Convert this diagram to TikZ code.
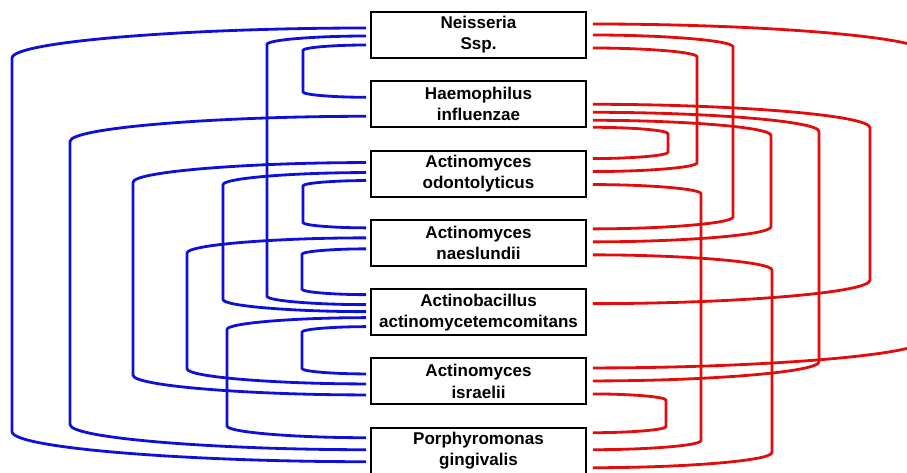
\documentclass[tikz,border=0pt]{standalone}
\usepackage{fontspec}
\setmainfont{Liberation Sans}
\usetikzlibrary{positioning, calc}
\definecolor{wireblue}{RGB}{15,15,215}
\definecolor{wirered}{RGB}{225,12,12}
\tikzset{
x=0.02cm, y=-0.02cm, % one unit is one pixel of the picture, y grows downward
node distance=1.386cm, % distance between the centres of two boxes
species/.style={draw, line width=1.1pt, fill=white, minimum width=4.3cm, minimum height=0.92cm, inner sep=0pt, align=center, font=\fontsize{9.7}{12}\selectfont\bfseries}, % the boxes
bluelink/.style={draw=wireblue, line width=1.6pt}, % links on the left
redlink/.style={draw=wirered, line width=1.6pt}, % links on the right
}
% #1 first box, #2 shift of its end, #3 second box, #4 shift of its end, #5 x of the vertical part
\newcommand{\bluewire}[5]{%
  \draw[bluelink] let \p1=($(#1.west)+(-4,#2)$), \p2=($(#3.west)+(-4,#4)$), \p3=(#5,0),
    \n1={0.085*(\x1-\x3)}, \n2={0.5*(\x1-\x3)} in
    (\p1) .. controls ({\x1-\n2},\y1) and (\x3,{\y1-0.45*\n1}) .. (\x3,{\y1-\n1})
    -- (\x3,{\y2+\n1})
    .. controls (\x3,{\y2+0.45*\n1}) and ({\x2-\n2},\y2) .. (\p2);}
\newcommand{\redwire}[5]{%
  \draw[redlink] let \p1=($(#1.east)+(6,#2)$), \p2=($(#3.east)+(6,#4)$), \p3=(#5,0),
    \n1={0.085*(\x3-\x1)}, \n2={0.5*(\x3-\x1)} in
    (\p1) .. controls ({\x1+\n2},\y1) and (\x3,{\y1-0.45*\n1}) .. (\x3,{\y1-\n1})
    -- (\x3,{\y2+\n1})
    .. controls (\x3,{\y2+0.45*\n1}) and ({\x2+\n2},\y2) .. (\p2);}

\begin{document}
\begin{tikzpicture}
    \useasboundingbox (0,0) rectangle (907,473);
    \node[species] (nei) at (478.5,35) {Neisseria\\Ssp.};
    \node[species, below of=nei] (hae) {Haemophilus\\influenzae};
    \node[species, below of=hae] (odo) {Actinomyces\\odontolyticus};
    \node[species, below of=odo] (nae) {Actinomyces\\naeslundii};
    \node[species, below of=nae] (aac) {Actinobacillus\\actinomycetemcomitans};
    \node[species, below of=aac] (isr) {Actinomyces\\israelii};
    \node[species, below of=isr] (pgi) {Porphyromonas\\gingivalis};
    % left side
    \bluewire{nei}{-7}{pgi}{11}{12}
    \bluewire{nei}{1}{aac}{-7.5}{267}
    \bluewire{nei}{10}{hae}{-7}{303}
    \bluewire{hae}{12}{pgi}{-1}{70}
    \bluewire{odo}{-11}{isr}{13.5}{133}
    \bluewire{odo}{-1}{aac}{-0.5}{223}
    \bluewire{odo}{7}{nae}{-15}{303}
    \bluewire{nae}{-5}{isr}{2.5}{187}
    \bluewire{nae}{6}{aac}{-17.5}{302}
    \bluewire{aac}{5.5}{pgi}{-13}{227}
    \bluewire{aac}{14.5}{isr}{-7.5}{302}
    % right side
    \redwire{nei}{-11}{isr}{-13.5}{925}
    \redwire{nei}{0}{nae}{-14}{733}
    \redwire{nei}{13}{odo}{-2}{697}
    \redwire{hae}{0}{aac}{-8.5}{870}
    \redwire{hae}{8}{isr}{-0.5}{819}
    \redwire{hae}{16}{nae}{-1}{771}
    \redwire{hae}{23}{odo}{-15}{668}
    \redwire{odo}{11}{pgi}{-1}{701}
    \redwire{nae}{12}{pgi}{17}{772}
    \redwire{isr}{12.5}{pgi}{-18}{666}
\end{tikzpicture}
\end{document}
